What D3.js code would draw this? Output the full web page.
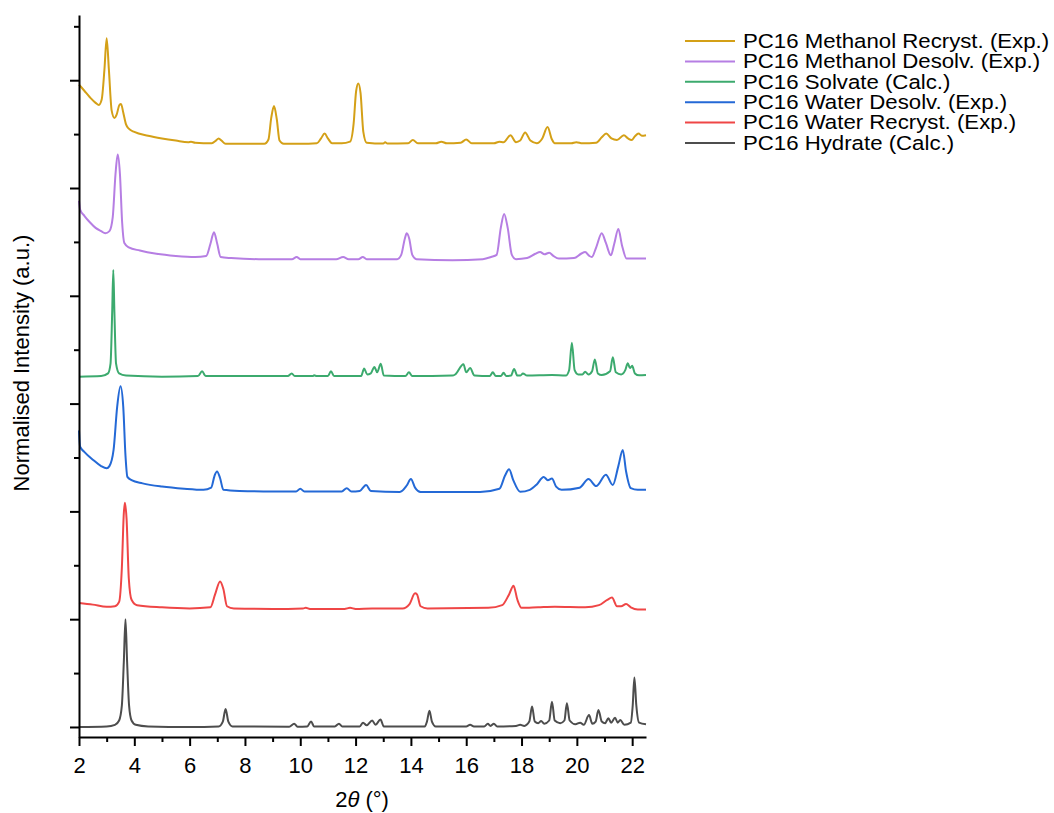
<!DOCTYPE html>
<html>
<head>
<meta charset="utf-8">
<script src="https://cdn.jsdelivr.net/npm/d3@7"></script>
<style>
  body { margin: 0; background: #fff; }
  svg { font-family: "Liberation Sans", Arial, sans-serif; }
</style>
</head>
<body>
<div id="chart"></div>
<script>
// series names, top to bottom in the stack
var names = ["PC16 Methanol Recryst. (Exp.)",
             "PC16 Methanol Desolv. (Exp.)",
             "PC16 Solvate (Calc.)",
             "PC16 Water Desolv. (Exp.)",
             "PC16 Water Recryst. (Exp.)",
             "PC16 Hydrate (Calc.)"]
var colors = ["#d4a017", "#b67ee3", "#3caa6e", "#2469d6", "#ef4646", "#4d4d4d"]
// vertical offset of each pattern (normalised units)
var offsets = [5.40, 4.33, 3.25, 2.17, 1.08, 0]

var xMajor = [2, 4, 6, 8, 10, 12, 14, 16, 18, 20, 22]
var xMinor = [3, 5, 7, 9, 11, 13, 15, 17, 19, 21]
var yMajor = [0, 1, 2, 3, 4, 5, 6]
var yMinor = [0.5, 1.5, 2.5, 3.5, 4.5, 5.5, 6.5]

// [2theta, normalised intensity]
var methanolRecryst = [[2.0,0.56],[2.2,0.50],[2.4,0.44],[2.6,0.39],[2.72,0.37],[2.82,0.42],[2.92,0.70],[3.0,0.99],[3.08,0.70],[3.18,0.32],[3.28,0.25],[3.36,0.28],[3.46,0.37],[3.52,0.38],[3.6,0.30],[3.7,0.19],[3.8,0.15],[4.0,0.12],[4.5,0.085],[5.0,0.06],[5.5,0.04],[5.95,0.025],[6.05,0.03],[6.2,0.02],[6.8,0.015],[6.95,0.04],[7.05,0.06],[7.15,0.04],[7.3,0.01],[8.0,0.01],[8.7,0.01],[8.85,0.05],[8.95,0.25],[9.05,0.36],[9.15,0.24],[9.25,0.04],[9.4,0.01],[10.0,0.01],[10.6,0.015],[10.75,0.06],[10.88,0.105],[11.0,0.06],[11.15,0.015],[11.5,0.015],[11.8,0.03],[11.93,0.2],[12.02,0.5],[12.1,0.57],[12.18,0.48],[12.28,0.12],[12.4,0.02],[13.0,0.012],[13.07,0.025],[13.15,0.012],[13.9,0.015],[14.07,0.046],[14.25,0.015],[14.9,0.015],[15.1,0.03],[15.3,0.015],[15.8,0.02],[16.0,0.05],[16.2,0.015],[17.0,0.015],[17.2,0.03],[17.35,0.025],[17.6,0.09],[17.8,0.025],[17.95,0.04],[18.13,0.115],[18.32,0.04],[18.55,0.015],[18.75,0.06],[18.94,0.165],[19.1,0.05],[19.2,0.015],[19.8,0.015],[19.98,0.025],[20.2,0.015],[20.7,0.02],[20.9,0.07],[21.06,0.105],[21.25,0.06],[21.45,0.045],[21.7,0.09],[21.85,0.06],[21.98,0.045],[22.1,0.08],[22.23,0.105],[22.35,0.085],[22.5,0.09]]

var methanolDesolv = [[2.0,0.55],[2.04,0.47],[2.2,0.41],[2.4,0.35],[2.6,0.30],[2.8,0.27],[2.95,0.25],[3.1,0.27],[3.22,0.4],[3.32,0.8],[3.4,0.98],[3.48,0.8],[3.56,0.35],[3.64,0.16],[3.8,0.12],[4.2,0.09],[4.8,0.06],[5.5,0.04],[6.2,0.03],[6.6,0.04],[6.75,0.15],[6.88,0.26],[7.0,0.15],[7.12,0.03],[7.5,0.02],[8.5,0.01],[9.7,0.01],[9.87,0.03],[10.0,0.01],[11.3,0.01],[11.55,0.03],[11.75,0.01],[12.1,0.01],[12.26,0.03],[12.4,0.01],[13.5,0.01],[13.65,0.05],[13.78,0.2],[13.85,0.25],[13.94,0.2],[14.05,0.05],[14.2,0.01],[15.5,0.0],[16.6,0.01],[16.9,0.03],[17.1,0.05],[17.25,0.3],[17.37,0.43],[17.5,0.3],[17.65,0.05],[17.8,0.01],[18.2,0.02],[18.5,0.06],[18.67,0.077],[18.83,0.055],[19.0,0.07],[19.15,0.04],[19.35,0.015],[19.9,0.02],[20.15,0.06],[20.3,0.077],[20.45,0.04],[20.54,0.03],[20.7,0.12],[20.9,0.25],[21.05,0.16],[21.23,0.046],[21.35,0.15],[21.5,0.29],[21.63,0.14],[21.8,0.015],[22.5,0.015]]

var solvate = [[2.0,0.0],[2.8,0.005],[3.05,0.03],[3.14,0.12],[3.2,0.6],[3.24,0.99],[3.28,0.6],[3.34,0.12],[3.45,0.03],[3.7,0.01],[5.0,0.0],[6.3,0.005],[6.45,0.05],[6.58,0.005],[9.55,0.005],[9.69,0.03],[9.8,0.005],[10.45,0.005],[10.5,0.012],[10.6,0.005],[11.0,0.005],[11.11,0.05],[11.22,0.005],[12.2,0.005],[12.31,0.075],[12.42,0.02],[12.55,0.03],[12.68,0.09],[12.78,0.04],[12.91,0.12],[13.02,0.01],[13.8,0.005],[13.93,0.04],[14.05,0.005],[15.5,0.01],[15.6,0.02],[15.9,0.115],[16.0,0.04],[16.14,0.08],[16.3,0.01],[16.85,0.005],[16.96,0.04],[17.07,0.005],[17.25,0.005],[17.35,0.035],[17.45,0.005],[17.62,0.01],[17.73,0.07],[17.85,0.01],[17.96,0.01],[18.05,0.03],[18.2,0.01],[19.1,0.015],[19.6,0.01],[19.72,0.06],[19.82,0.315],[19.92,0.06],[20.05,0.02],[20.2,0.02],[20.3,0.045],[20.42,0.02],[20.55,0.05],[20.65,0.16],[20.76,0.03],[20.9,0.015],[21.2,0.05],[21.3,0.18],[21.41,0.04],[21.6,0.02],[21.75,0.06],[21.84,0.125],[21.92,0.08],[22.0,0.10],[22.1,0.03],[22.25,0.012],[22.5,0.015]]

var waterDesolv = [[2.0,0.58],[2.04,0.43],[2.2,0.38],[2.5,0.31],[2.8,0.25],[3.0,0.23],[3.1,0.25],[3.25,0.4],[3.38,0.8],[3.5,0.99],[3.6,0.8],[3.68,0.35],[3.75,0.15],[3.9,0.12],[4.3,0.09],[5.0,0.06],[5.8,0.04],[6.5,0.03],[6.78,0.05],[6.9,0.16],[6.99,0.20],[7.1,0.14],[7.22,0.03],[7.8,0.02],[9.0,0.015],[9.85,0.015],[10.0,0.04],[10.15,0.015],[11.5,0.015],[11.68,0.045],[11.85,0.015],[12.15,0.02],[12.38,0.075],[12.55,0.02],[13.6,0.01],[13.85,0.07],[14.0,0.13],[14.15,0.05],[14.35,0.01],[16.5,0.01],[17.2,0.04],[17.4,0.16],[17.55,0.22],[17.7,0.12],[17.95,0.012],[18.3,0.03],[18.55,0.08],[18.8,0.15],[18.95,0.12],[19.1,0.135],[19.25,0.06],[19.45,0.03],[20.1,0.05],[20.42,0.13],[20.7,0.065],[21.05,0.17],[21.3,0.075],[21.5,0.25],[21.66,0.40],[21.78,0.2],[21.95,0.045],[22.2,0.03],[22.5,0.03]]

var waterRecryst = [[2.0,0.07],[2.5,0.055],[3.0,0.035],[3.3,0.04],[3.45,0.08],[3.55,0.4],[3.62,0.9],[3.66,1.0],[3.72,0.85],[3.8,0.3],[3.9,0.1],[4.1,0.05],[5.0,0.03],[6.0,0.02],[6.75,0.03],[6.92,0.15],[7.1,0.27],[7.22,0.2],[7.35,0.04],[7.6,0.02],[9.0,0.015],[10.1,0.02],[10.2,0.025],[10.35,0.015],[11.6,0.015],[11.8,0.025],[12.0,0.015],[12.6,0.02],[13.7,0.02],[13.95,0.06],[14.15,0.16],[14.22,0.15],[14.35,0.04],[14.6,0.02],[16.8,0.025],[17.3,0.05],[17.55,0.15],[17.71,0.23],[17.85,0.1],[18.0,0.025],[18.6,0.03],[19.2,0.035],[20.3,0.03],[20.8,0.05],[21.1,0.1],[21.27,0.12],[21.45,0.04],[21.6,0.04],[21.78,0.06],[21.95,0.03],[22.2,0.01],[22.5,0.01]]

var hydrate = [[2.0,0.0],[3.0,0.005],[3.3,0.02],[3.45,0.06],[3.55,0.2],[3.62,0.6],[3.68,1.0],[3.74,0.6],[3.81,0.2],[3.9,0.06],[4.05,0.02],[4.5,0.005],[6.0,0.0],[7.05,0.005],[7.2,0.05],[7.3,0.167],[7.4,0.05],[7.55,0.005],[9.6,0.003],[9.78,0.03],[9.9,0.003],[10.25,0.005],[10.39,0.05],[10.5,0.005],[11.25,0.005],[11.4,0.03],[11.52,0.005],[12.15,0.005],[12.27,0.04],[12.4,0.015],[12.6,0.06],[12.72,0.02],[12.9,0.07],[13.02,0.005],[14.5,0.005],[14.58,0.05],[14.67,0.15],[14.76,0.05],[14.9,0.005],[16.0,0.005],[16.14,0.02],[16.28,0.005],[16.65,0.005],[16.78,0.03],[16.88,0.01],[17.0,0.03],[17.12,0.005],[17.8,0.01],[17.95,0.02],[18.1,0.01],[18.28,0.05],[18.38,0.19],[18.48,0.05],[18.6,0.035],[18.71,0.055],[18.82,0.03],[19.0,0.06],[19.1,0.235],[19.2,0.06],[19.4,0.035],[19.55,0.06],[19.64,0.22],[19.74,0.06],[19.95,0.025],[20.12,0.04],[20.25,0.02],[20.44,0.11],[20.56,0.03],[20.68,0.05],[20.78,0.158],[20.9,0.05],[21.02,0.035],[21.14,0.08],[21.24,0.04],[21.38,0.085],[21.48,0.04],[21.57,0.065],[21.72,0.02],[21.95,0.04],[22.02,0.2],[22.08,0.46],[22.15,0.2],[22.25,0.04],[22.5,0.025]]

var patterns = [methanolRecryst, methanolDesolv, solvate, waterDesolv, waterRecryst, hydrate]

var W = 1054, H = 813
var svg = d3.select("#chart").append("svg")
    .attr("width", W)
    .attr("height", H)

var x = d3.scaleLinear().domain([2, 22.5]).range([79, 646])
var y = d3.scaleLinear().domain([-0.093, 6.605]).range([737, 15])

// traces
var line = d3.line()
    .x(function(d) { return x(d[0]) })
    .y(function(d) { return y(d[1]) })
    .curve(d3.curveMonotoneX)

patterns.forEach(function(p, i) {
    svg.append("path")
        .datum(p.map(function(d) { return [d[0], d[1] + offsets[i]] }))
        .attr("fill", "none")
        .attr("stroke", colors[i])
        .attr("stroke-width", 2)
        .attr("stroke-linejoin", "round")
        .attr("d", line)
})

// x axis
var gx = svg.append("g")
    .attr("transform", "translate(0," + y.range()[0] + ")")
    .call(d3.axisBottom(x).tickValues(xMajor).tickSize(9).tickSizeOuter(0).tickPadding(11)
        .tickFormat(d3.format("d")))
gx.append("g")
    .call(d3.axisBottom(x).tickValues(xMinor).tickSize(5).tickFormat(""))
    .select(".domain").remove()

// y axis (no labels)
var gy = svg.append("g")
    .attr("transform", "translate(" + x.range()[0] + ",0)")
    .call(d3.axisLeft(y).tickValues(yMajor).tickSize(9).tickSizeOuter(0).tickFormat(""))
gy.append("g")
    .call(d3.axisLeft(y).tickValues(yMinor).tickSize(5).tickFormat(""))
    .select(".domain").remove()

svg.selectAll(".domain").attr("stroke", "#000").attr("stroke-width", 2)
svg.selectAll(".tick line").attr("stroke", "#000").attr("stroke-width", 2)
svg.selectAll(".tick text")
    .attr("fill", "#000")
    .style("font-size", "22px")
    .style("font-family", "'Liberation Sans', Arial, sans-serif")

// axis titles
var xt = svg.append("text")
    .attr("x", 362)
    .attr("y", 807)
    .attr("text-anchor", "middle")
    .style("font-size", "22px")
xt.append("tspan").text("2")
xt.append("tspan").style("font-style", "italic").text("θ")
xt.append("tspan").text(" (°)")

svg.append("text")
    .attr("transform", "translate(29,363) rotate(-90)")
    .attr("text-anchor", "middle")
    .style("font-size", "22px")
    .text("Normalised Intensity (a.u.)")

// legend
var legend = svg.append("g").attr("transform", "translate(685,41)")
var rows = legend.selectAll("g")
    .data(names)
    .enter()
    .append("g")
    .attr("transform", function(d, i) { return "translate(0," + (i * 20.4) + ")" })
rows.append("line")
    .attr("x1", 0).attr("x2", 50)
    .attr("stroke", function(d, i) { return colors[i] })
    .attr("stroke-width", 2)
// legend text in the picture is a bit wider than plain Arial
rows.append("text")
    .attr("transform", "translate(58,0) scale(1.14,1)")
    .attr("dy", "0.35em")
    .style("font-size", "19.5px")
    .text(function(d) { return d })
</script>
</body>
</html>
